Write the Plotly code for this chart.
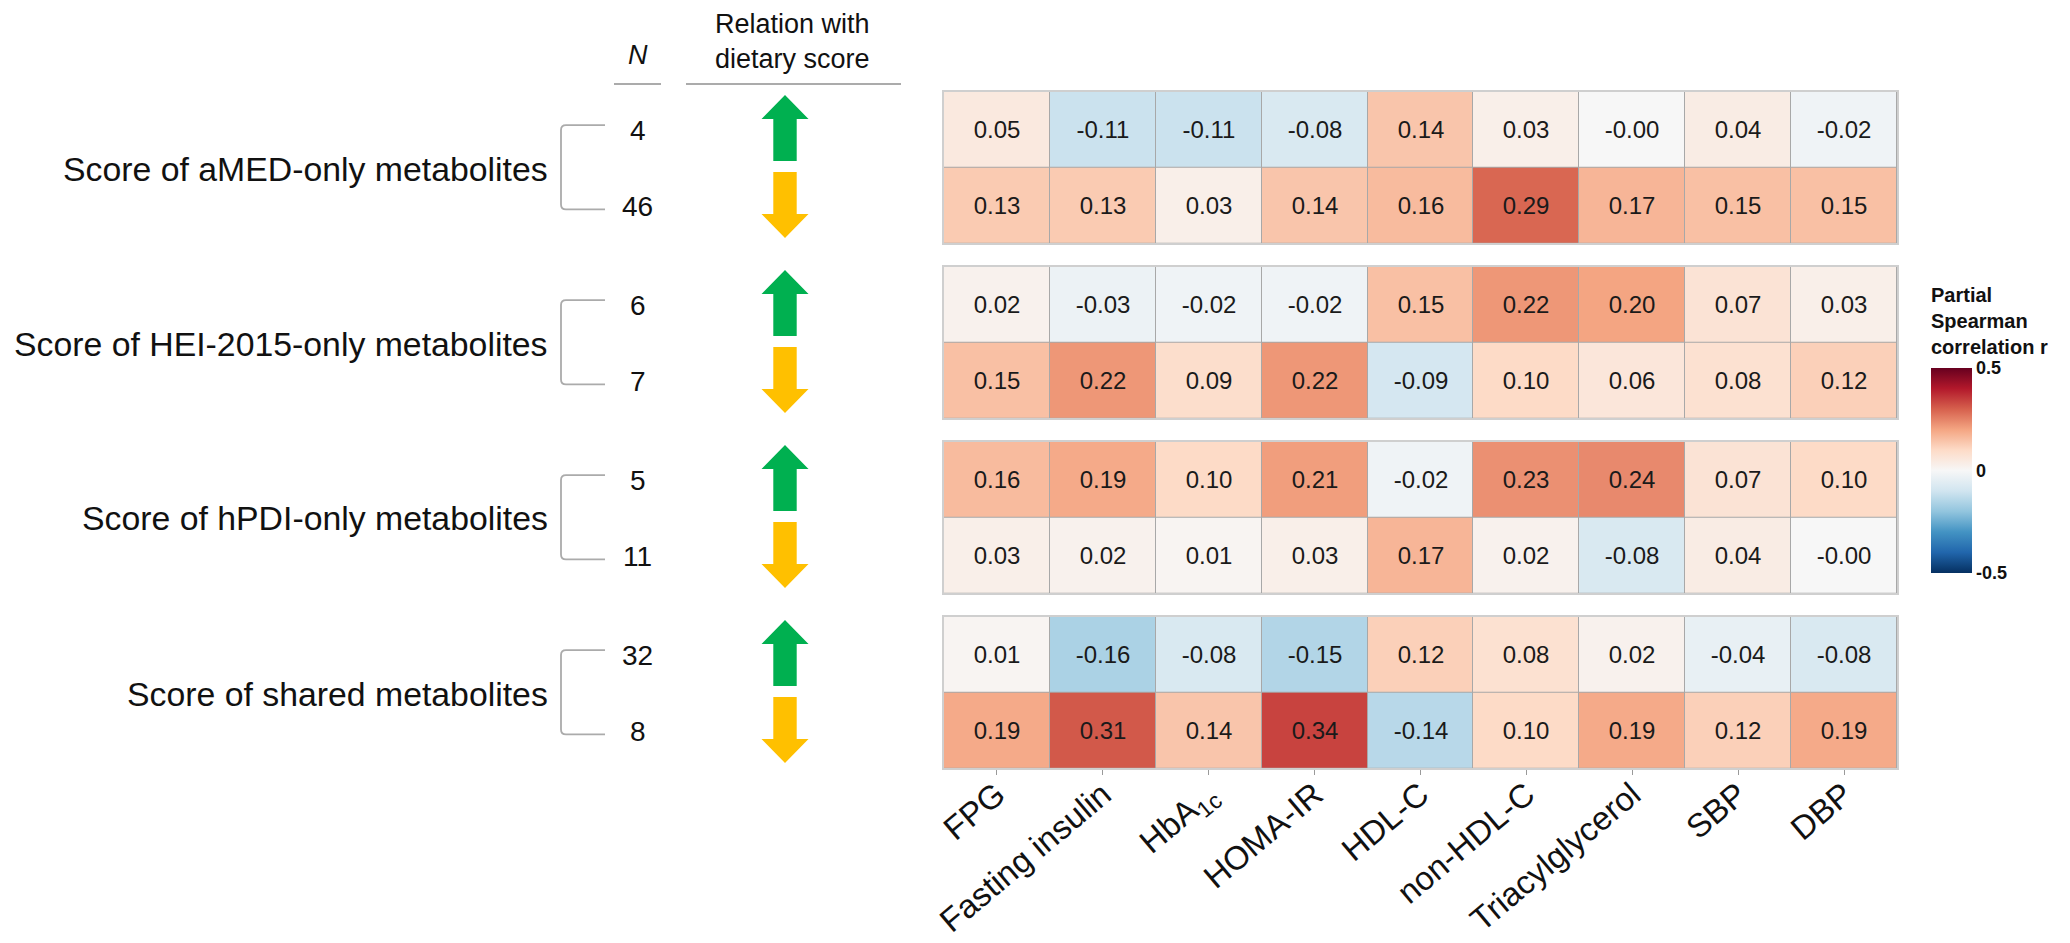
import plotly.graph_objects as go

W, H = 2070, 943
OFF = 8  # page body margin that offsets the figure in the browser
FONT = "Liberation Sans, Arial, sans-serif"

# ---------------- data ----------------
metrics = ["FPG", "Fasting insulin", "HbA1c", "HOMA-IR", "HDL-C",
           "non-HDL-C", "Triacylglycerol", "SBP", "DBP"]
metric_ticktext = ["FPG", "Fasting insulin", "HbA<sub>1c</sub>", "HOMA-IR", "HDL-C",
                   "non-HDL-C", "Triacylglycerol", "SBP", "DBP"]
groups = ["Score of aMED-only metabolites", "Score of HEI-2015-only metabolites",
          "Score of hPDI-only metabolites", "Score of shared metabolites"]
n_up = [4, 6, 5, 32]
n_down = [46, 7, 11, 8]

amed_up = [0.05, -0.11, -0.11, -0.08, 0.14, 0.03, -0.00, 0.04, -0.02]
amed_down = [0.13, 0.13, 0.03, 0.14, 0.16, 0.29, 0.17, 0.15, 0.15]
hei_up = [0.02, -0.03, -0.02, -0.02, 0.15, 0.22, 0.20, 0.07, 0.03]
hei_down = [0.15, 0.22, 0.09, 0.22, -0.09, 0.10, 0.06, 0.08, 0.12]
hpdi_up = [0.16, 0.19, 0.10, 0.21, -0.02, 0.23, 0.24, 0.07, 0.10]
hpdi_down = [0.03, 0.02, 0.01, 0.03, 0.17, 0.02, -0.08, 0.04, -0.00]
shared_up = [0.01, -0.16, -0.08, -0.15, 0.12, 0.08, 0.02, -0.04, -0.08]
shared_down = [0.19, 0.31, 0.14, 0.34, -0.14, 0.10, 0.19, 0.12, 0.19]

up_rows = [amed_up, hei_up, hpdi_up, shared_up]
down_rows = [amed_down, hei_down, hpdi_down, shared_down]

cb_ticks = [-0.5, 0, 0.5]
cb_ticktext = ["-0.5", "0", "0.5"]

# ---------------- styling / layout constants ----------------
brewer_rdbu = ["#053061", "#2166AC", "#4393C3", "#92C5DE", "#D1E5F0", "#F7F7F7",
               "#FDDBC7", "#F4A582", "#D6604D", "#B2182B", "#67001F"]
colorscale = [[i / (len(brewer_rdbu) - 1), c] for i, c in enumerate(brewer_rdbu)]

HM_LEFT, HM_RIGHT = 944, 1897
PANEL_TOP0, PANEL_H, PANEL_STEP = 91.7, 151.6, 175.0
LABEL_RIGHT = 550
N_X = 637.5
ARROW_X = 785
GREEN, GOLD = "#00B050", "#FFC000"
LINE_GREY = "#ababab"


def xp(px):
    return (px - OFF) / W


def yp(py):
    return 1 - (py - OFF) / H


fig = go.Figure()
layout = dict(
    width=W, height=H,
    margin=dict(l=0, r=0, t=0, b=0),
    paper_bgcolor="white",
    plot_bgcolor="#a8a8a8",
    font=dict(family=FONT, color="#111111"),
    showlegend=False,
    coloraxis=dict(
        colorscale=colorscale, cmin=-0.5, cmax=0.5,
        colorbar=dict(
            x=xp(1931), xanchor="left", xpad=0, ypad=0,
            y=yp(470.5), yanchor="middle",
            thickness=41, thicknessmode="pixels",
            len=205, lenmode="pixels",
            outlinewidth=0,
            tickvals=cb_ticks, ticktext=cb_ticktext,
            ticks="", ticklabelposition="outside",
            tickfont=dict(family=FONT, size=18, color="#111111", weight="bold"),
        ),
    ),
)

annotations = []
shapes = []

for i in range(4):
    top = PANEL_TOP0 + i * PANEL_STEP
    bot = top + PANEL_H
    sfx = "" if i == 0 else str(i + 1)
    z = [down_rows[i], up_rows[i]]
    text = [[f"{v:.2f}" for v in row] for row in z]
    fig.add_trace(go.Heatmap(
        x=list(range(len(metrics))), y=[0, 1], z=z, text=text,
        texttemplate="%{text}",
        textfont=dict(family=FONT, size=24, color="#1a1a1a"),
        coloraxis="coloraxis", xgap=1, ygap=1,
        xaxis="x" + sfx, yaxis="y" + sfx,
        hovertemplate="%{z:.2f}<extra></extra>",
    ))
    last = i == 3
    layout["xaxis" + sfx] = dict(
        domain=[xp(HM_LEFT), xp(HM_RIGHT)], anchor="y" + sfx,
        range=[-0.5, len(metrics) - 0.5],
        tickvals=list(range(len(metrics))), ticktext=metric_ticktext,
        showticklabels=last, ticks="outside" if last else "",
        ticklen=5, tickcolor="#9a9a9a", tickwidth=1,
        tickangle=-40, ticklabelstandoff=-13,
        tickfont=dict(family=FONT, size=33, color="#111111"),
        showgrid=False, zeroline=False,
        showline=True, mirror=True, linecolor="#cfcfcf", linewidth=2,
        automargin=False,
    )
    layout["yaxis" + sfx] = dict(
        domain=[yp(bot), yp(top)], anchor="x" + sfx,
        range=[-0.5, 1.5], showticklabels=False, ticks="",
        showgrid=False, zeroline=False,
        showline=True, mirror=True, linecolor="#cfcfcf", linewidth=2,
        automargin=False,
    )

    # left-hand annotations
    c_panel = (top + bot) / 2
    r_up = top + PANEL_H / 4
    r_dn = top + 3 * PANEL_H / 4
    annotations.append(dict(
        text=groups[i], x=xp(LABEL_RIGHT), y=yp(c_panel + 1),
        xref="paper", yref="paper", xanchor="right", yanchor="middle",
        showarrow=False, font=dict(family=FONT, size=33.8, color="#111111")))
    for n, ry in ((n_up[i], r_up), (n_down[i], r_dn)):
        annotations.append(dict(
            text=str(n), x=xp(N_X), y=yp(ry + 1),
            xref="paper", yref="paper", xanchor="center", yanchor="middle",
            showarrow=False, font=dict(family=FONT, size=28, color="#111111")))

    # bracket
    bt, bb = r_up - 4.5, r_dn + 4
    bx, bx2, rr = 561, 605, 5
    shapes.append(dict(
        type="path", xref="paper", yref="paper",
        path=(f"M {xp(bx2)},{yp(bt)} L {xp(bx + rr)},{yp(bt)} "
              f"Q {xp(bx)},{yp(bt)} {xp(bx)},{yp(bt + rr)} "
              f"L {xp(bx)},{yp(bb - rr)} "
              f"Q {xp(bx)},{yp(bb)} {xp(bx + rr)},{yp(bb)} L {xp(bx2)},{yp(bb)}"),
        line=dict(color=LINE_GREY, width=1.8)))

    # arrows
    hw, sw, half, head = 23.5, 11.7, 33, 24
    cy = r_up - 1.5
    tip, hb, end = cy - half, cy - half + head, cy + half
    shapes.append(dict(
        type="path", xref="paper", yref="paper", fillcolor=GREEN,
        line=dict(width=0),
        path=(f"M {xp(ARROW_X)},{yp(tip)} L {xp(ARROW_X + hw)},{yp(hb)} "
              f"L {xp(ARROW_X + sw)},{yp(hb)} L {xp(ARROW_X + sw)},{yp(end)} "
              f"L {xp(ARROW_X - sw)},{yp(end)} L {xp(ARROW_X - sw)},{yp(hb)} "
              f"L {xp(ARROW_X - hw)},{yp(hb)} Z")))
    cy = r_dn - 0.5
    tip, hb, end = cy + half, cy + half - head, cy - half
    shapes.append(dict(
        type="path", xref="paper", yref="paper", fillcolor=GOLD,
        line=dict(width=0),
        path=(f"M {xp(ARROW_X)},{yp(tip)} L {xp(ARROW_X + hw)},{yp(hb)} "
              f"L {xp(ARROW_X + sw)},{yp(hb)} L {xp(ARROW_X + sw)},{yp(end)} "
              f"L {xp(ARROW_X - sw)},{yp(end)} L {xp(ARROW_X - sw)},{yp(hb)} "
              f"L {xp(ARROW_X - hw)},{yp(hb)} Z")))

# headers
annotations.append(dict(
    text="<i>N</i>", x=xp(N_X), y=yp(55), xref="paper", yref="paper",
    xanchor="center", yanchor="middle", showarrow=False,
    font=dict(family=FONT, size=27, color="#111111")))
annotations.append(dict(
    text="Relation with<br>dietary score", x=xp(792), y=1.0,
    xref="paper", yref="paper", xanchor="center", yanchor="top",
    borderpad=0, showarrow=False,
    font=dict(family=FONT, size=27, color="#111111")))
for x0, x1 in ((614, 661), (686, 901)):
    shapes.append(dict(type="line", xref="paper", yref="paper",
                       x0=xp(x0), x1=xp(x1), y0=yp(84), y1=yp(84),
                       line=dict(color=LINE_GREY, width=1.8)))

# colorbar title
annotations.append(dict(
    text="<b>Partial<br>Spearman<br>correlation r</b>", x=xp(1929), y=yp(360),
    xref="paper", yref="paper", xanchor="left", yanchor="bottom", align="left",
    showarrow=False, font=dict(family=FONT, size=20, color="#111111")))

layout["annotations"] = annotations
layout["shapes"] = shapes
fig.update_layout(**layout)
fig.write_html("out.html")
